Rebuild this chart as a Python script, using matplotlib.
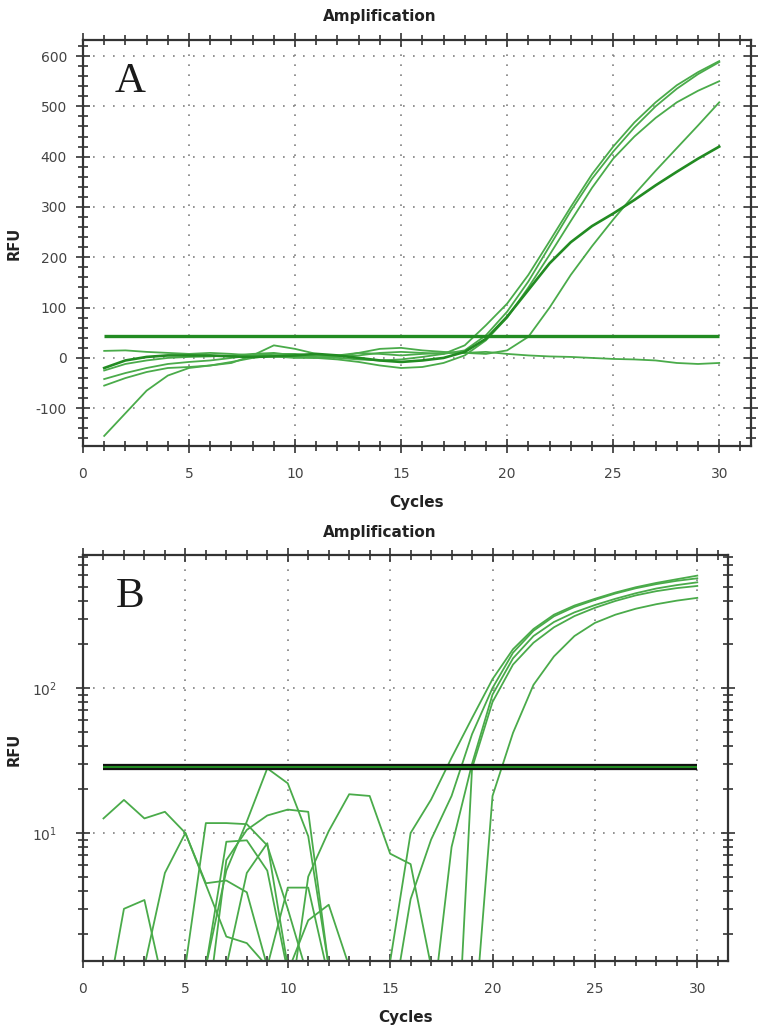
import matplotlib
matplotlib.use('AGG')
import matplotlib.pyplot as plt
import numpy as np
from matplotlib.ticker import MultipleLocator, LogLocator, NullFormatter

plt.rcParams['axes.unicode_minus'] = False

cycles = np.arange(1, 31)

# Panel A - RFU (linear), one list per well
rfu_a1 = [-25, -12, -5, 0, 2, 3, 5, 8, 10, 5, 2, 0, -3, -5, -3, 2, 8,
          25, 65, 108, 165, 232, 300, 365, 420, 468, 508, 542, 568, 590]
rfu_a2 = [-42, -30, -20, -12, -8, -5, 0, 5, 8, 8, 5, 2, 5, 10, 12, 10, 8,
          15, 45, 92, 152, 222, 292, 356, 410, 458, 500, 535, 564, 588]
rfu_a3 = [-55, -40, -28, -20, -18, -15, -8, 0, 5, 3, 0, -3, -8, -15, -20, -18, -10,
          5, 35, 80, 140, 205, 272, 338, 396, 440, 477, 508, 531, 550]
rfu_a4 = [-20, -5, 2, 5, 5, 5, 3, 2, 3, 5, 8, 5, 0, -5, -8, -5, 0,
          12, 38, 82, 135, 188, 230, 262, 287, 314, 343, 370, 396, 420]
rfu_a5 = [-155, -110, -65, -35, -20, -15, -10, 5, 25, 18, 8, 2, 10, 18, 20, 15, 12,
          10, 8, 15, 42, 100, 165, 222, 275, 325, 372, 417, 462, 508]
rfu_a6 = [14, 15, 12, 10, 8, 10, 8, 5, 3, 0, 0, 5, 10, 8, 5, 8, 10,
          10, 12, 8, 5, 3, 2, 0, -2, -3, -5, -10, -12, -10]
threshold_a = 43.6

# Panel B - RFU (log scale), values below 1.3 fall off the axis
rfu_b1 = [12.6, 16.9, 12.6, 14, 10, 4.5, 4.7, 3.9, 1.2, 0.5, 0.5, 0.5, 0.5, 1.3, 1.3,
          10, 17, 33, 62, 115, 185, 255, 320, 370, 412, 455, 495, 530, 562, 595]
rfu_b2 = [0.5, 3.0, 3.45, 0.8, 1.2, 11.7, 11.7, 11.5, 8.2, 3.0, 1.0, 0.5, 0.5, 0.5, 0.5,
          3.5, 9, 18, 48, 100, 175, 248, 312, 362, 405, 448, 487, 520, 548, 570]
rfu_b3 = [0.5, 0.5, 1.2, 5.3, 10, 4.4, 1.93, 1.74, 1.2, 4.2, 4.2, 1.0, 0.5, 0.5, 0.5,
          0.5, 0.5, 8, 30, 90, 160, 228, 285, 332, 373, 412, 450, 485, 512, 535]
rfu_b4 = [0.5, 0.5, 0.5, 0.5, 0.5, 1.2, 8.7, 8.9, 5.5, 1.1, 2.5, 3.2, 1.2, 0.5, 0.5,
          0.5, 0.3, 0.05, 28, 80, 145, 205, 262, 313, 357, 398, 435, 465, 488, 505]
rfu_b5 = [0.5, 0.5, 0.5, 0.5, 0.5, 0.5, 1.2, 5.3, 8.5, 1.2, 0.5, 0.5, 0.5, 0.5, 0.5,
          0.5, 0.5, 0.3, 0.3, 18, 49, 105, 165, 228, 281, 320, 352, 378, 400, 418]
rfu_b6 = [0.5, 0.5, 0.5, 0.5, 0.5, 1.2, 5.5, 12, 27.9, 22, 9.5, 1.2, 0.5, 0.5, 0.5,
          0.5, 0.5, 0.5, 0.5, 0.5, 0.5, 0.5, 0.5, 0.5, 0.5, 0.5, 0.5, 0.5, 0.5, 0.5]
rfu_b7 = [0.5, 0.5, 0.5, 0.5, 0.5, 0.5, 6.5, 10.5, 13.2, 14.5, 14, 1.2, 0.5, 0.5, 0.5,
          0.5, 0.5, 0.5, 0.5, 0.5, 0.5, 0.5, 0.5, 0.5, 0.5, 0.5, 0.5, 0.5, 0.5, 0.5]
rfu_b8 = [0.5, 0.5, 0.5, 0.5, 0.5, 0.5, 0.5, 0.5, 0.5, 0.5, 5, 10.3, 18.5, 18, 7.2,
          6.1, 1.2, 0.5, 0.5, 0.5, 0.5, 0.5, 0.5, 0.5, 0.5, 0.5, 0.5, 0.5, 0.5, 0.5]
threshold_b = 28.5

curve_green = '#4aab4a'
dark_green = '#228b22'


def style_axes(ax):
    ax.set_xlim(0, 31.5)
    ax.xaxis.set_major_locator(MultipleLocator(5))
    ax.xaxis.set_minor_locator(MultipleLocator(1))
    ax.grid(True, which='major', color='#808080', linestyle=(0, (1, 5)), linewidth=1.2)
    ax.tick_params(which='both', direction='inout', top=True, right=True,
                   labeltop=False, labelright=False, color='#333333', width=1.2)
    ax.tick_params(which='major', length=10)
    ax.tick_params(which='minor', length=7)
    ax.tick_params(axis='x', which='major', pad=10, labelsize=10, labelcolor='#444444')
    ax.tick_params(axis='y', which='major', pad=6.5, labelsize=10, labelcolor='#444444')
    for s in ax.spines.values():
        s.set_color('#333333')
        s.set_linewidth(1.6)
    ax.text(0.5, -0.138, 'Cycles', transform=ax.transAxes, ha='center', va='center',
            fontsize=11, fontweight='bold', color='#222222')


fig = plt.figure(figsize=(7.6, 10.35), dpi=100)
ax_a = fig.add_axes([0.1092, 0.5691, 0.879, 0.3923])
ax_b = fig.add_axes([0.1092, 0.0715, 0.8487, 0.3923])

# ---- panel A
for vals in [rfu_a6, rfu_a1, rfu_a2, rfu_a3, rfu_a5]:
    ax_a.plot(cycles, vals, color=curve_green, linewidth=1.3)
ax_a.plot(cycles, rfu_a4, color=dark_green, linewidth=1.9)
ax_a.hlines(threshold_a, cycles[0], cycles[-1], color=dark_green, linewidth=2.4, zorder=3)
style_axes(ax_a)
ax_a.set_ylim(-175, 632)
ax_a.yaxis.set_major_locator(MultipleLocator(100))
ax_a.yaxis.set_minor_locator(MultipleLocator(20))
ax_a.text(-0.103, 0.5, 'RFU', transform=ax_a.transAxes, rotation=90, ha='center',
          va='center', fontsize=10.5, fontweight='bold', color='#222222')
ax_a.text(0.048, 0.898, 'A', transform=ax_a.transAxes, family='Liberation Serif',
          fontsize=31, ha='left', va='center', color='#1a1a1a')

# ---- panel B
ax_b.set_yscale('log')
for vals in [rfu_b6, rfu_b7, rfu_b8, rfu_b1, rfu_b2, rfu_b3, rfu_b4, rfu_b5]:
    ax_b.plot(cycles, vals, color=curve_green, linewidth=1.3)
ax_b.hlines(threshold_b, cycles[0], cycles[-1], color='#111111', linewidth=4.5, zorder=3)
ax_b.hlines(threshold_b, cycles[0], cycles[-1], color=dark_green, linewidth=1.5, zorder=4)
style_axes(ax_b)
ax_b.set_ylim(1.31, 826)
ax_b.yaxis.set_major_locator(LogLocator(base=10))
ax_b.yaxis.set_minor_locator(LogLocator(base=10, subs=np.arange(2, 10)))
ax_b.yaxis.set_minor_formatter(NullFormatter())
ax_b.tick_params(axis='y', which='major', pad=14)
ax_b.text(-0.107, 0.52, 'RFU', transform=ax_b.transAxes, rotation=90, ha='center',
          va='center', fontsize=10.5, fontweight='bold', color='#222222')
ax_b.text(0.051, 0.897, 'B', transform=ax_b.transAxes, family='Liberation Serif',
          fontsize=31, ha='left', va='center', color='#1a1a1a')

fig.text(0.5, 1 - 16 / 1035, 'Amplification', ha='center', va='center',
         fontsize=11, fontweight='bold', color='#222222')
fig.text(0.5, 1 - 533 / 1035, 'Amplification', ha='center', va='center',
         fontsize=11, fontweight='bold', color='#222222')

plt.savefig('out.png', dpi=100)
